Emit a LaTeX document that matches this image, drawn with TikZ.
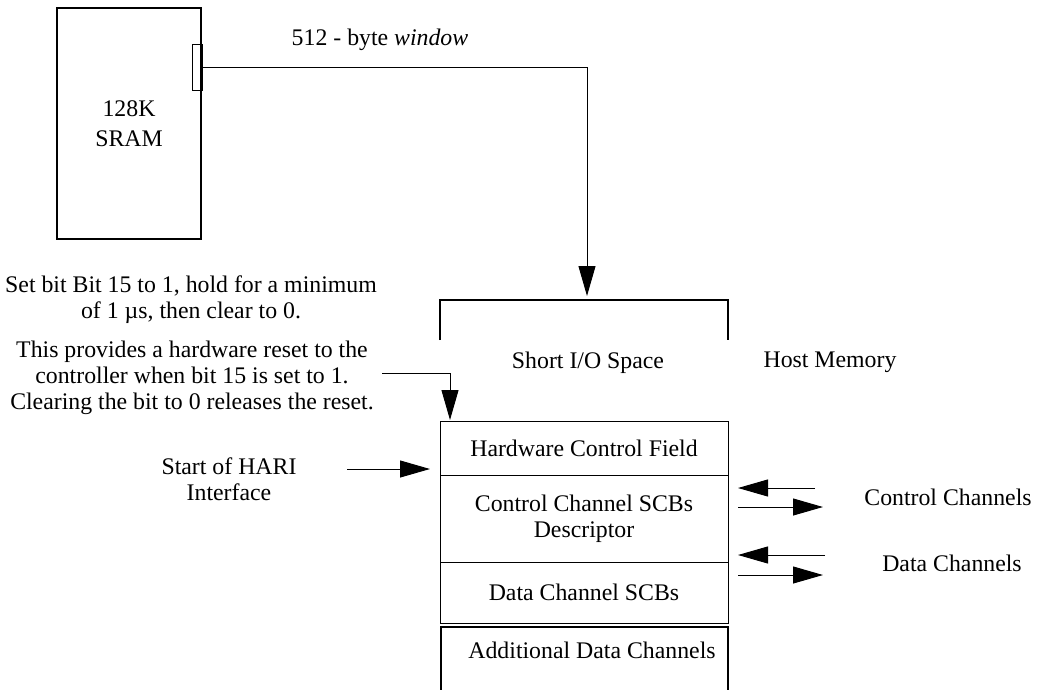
\documentclass[tikz,border=0pt]{standalone}
\usepackage{fontspec}
\setmainfont{Liberation Serif}
\usetikzlibrary{arrows.meta}
\begin{document}
\begin{tikzpicture}[x=1pt,y=-1pt,
  every node/.style={font=\fontsize{23.8}{26}\selectfont},
  box/.style={draw,line width=1.3pt,rectangle,inner sep=0pt,align=center},
  field/.style={draw,line width=1pt,rectangle,inner sep=0pt,align=center,minimum width=288pt},
  lbl/.style={inner sep=0pt,align=center},
  wire/.style={line width=1pt,draw=black},
  tip/.style={-{Triangle[length=30pt,width=17pt]}}]
\useasboundingbox (0,0) rectangle (1037,689);

% SRAM chip with its window port
\node[box,minimum width=144pt,minimum height=231pt,font=\fontsize{23.8}{30}\selectfont] (sram) at (129,123.5) {128K\\SRAM};
\node[draw,line width=0.8pt,inner sep=0pt,minimum width=10pt,minimum height=46pt] (port) at (197,67) {};
\node[lbl] (winlbl) at (380,40) {512 - byte \textit{window}};

% short I/O space bracket
\coordinate (iol) at (440,340);
\coordinate (iotl) at (440,300);
\coordinate (iotr) at (728,300);
\coordinate (ior) at (728,340);
\coordinate (iotip) at (587,296);
\draw[line width=1.3pt] (iol) -- (iotl) -- (iotr) -- (ior);
\node[lbl] (sio) at (588,363) {Short I/O Space};
\node[lbl] (host) at (830,362) {Host Memory};

% window mapping
\draw[wire,tip] (port.east) -| (iotip);

% memory layout fields
\node[field,minimum height=54pt] (hcf) at (584,448) {Hardware Control Field};
\node[field,minimum height=87pt] (ccs) at (584,518.5) {Control Channel SCBs\\Descriptor};
\node[field,minimum height=61pt] (dcs) at (584,592.5) {Data Channel SCBs};
\coordinate (adl) at (441,692);
\coordinate (adtl) at (441,627);
\coordinate (adtr) at (728,627);
\coordinate (adr) at (728,692);
\draw[line width=1.3pt] (adl) -- (adtl) -- (adtr) -- (adr);
\node[lbl] (adc) at (592,650) {Additional Data Channels};

% reset note
\node[lbl] (setbit) at (191,300) {Set bit Bit 15 to 1, hold for a minimum\\of 1 µs, then clear to 0.};
\node[lbl] (reset) at (192,378) {This provides a hardware reset to the\\controller when bit 15 is set to 1.\\Clearing the bit to 0 releases the reset.};
\coordinate (rsfrom) at (382,373);
\coordinate (rsto) at (450,420);
\draw[wire,tip] (rsfrom) -| (rsto);

% start of HARI
\node[lbl] (hari) at (229,479) {Start of HARI\\Interface};
\coordinate (harifrom) at (347,469);
\coordinate (harito) at (430,469);
\draw[wire,tip] (harifrom) -- (harito);

% channel arrows
\coordinate (c1a) at (815,488);
\coordinate (c1b) at (738,488);
\coordinate (c2a) at (738,507);
\coordinate (c2b) at (823,507);
\coordinate (d1a) at (825,555);
\coordinate (d1b) at (738,555);
\coordinate (d2a) at (738,575);
\coordinate (d2b) at (823,575);
\draw[wire,tip] (c1a) -- (c1b);
\draw[wire,tip] (c2a) -- (c2b);
\draw[wire,tip] (d1a) -- (d1b);
\draw[wire,tip] (d2a) -- (d2b);
\node[lbl] (ctl) at (948,497) {Control Channels};
\node[lbl] (dat) at (952,563) {Data Channels};
\end{tikzpicture}
\end{document}
